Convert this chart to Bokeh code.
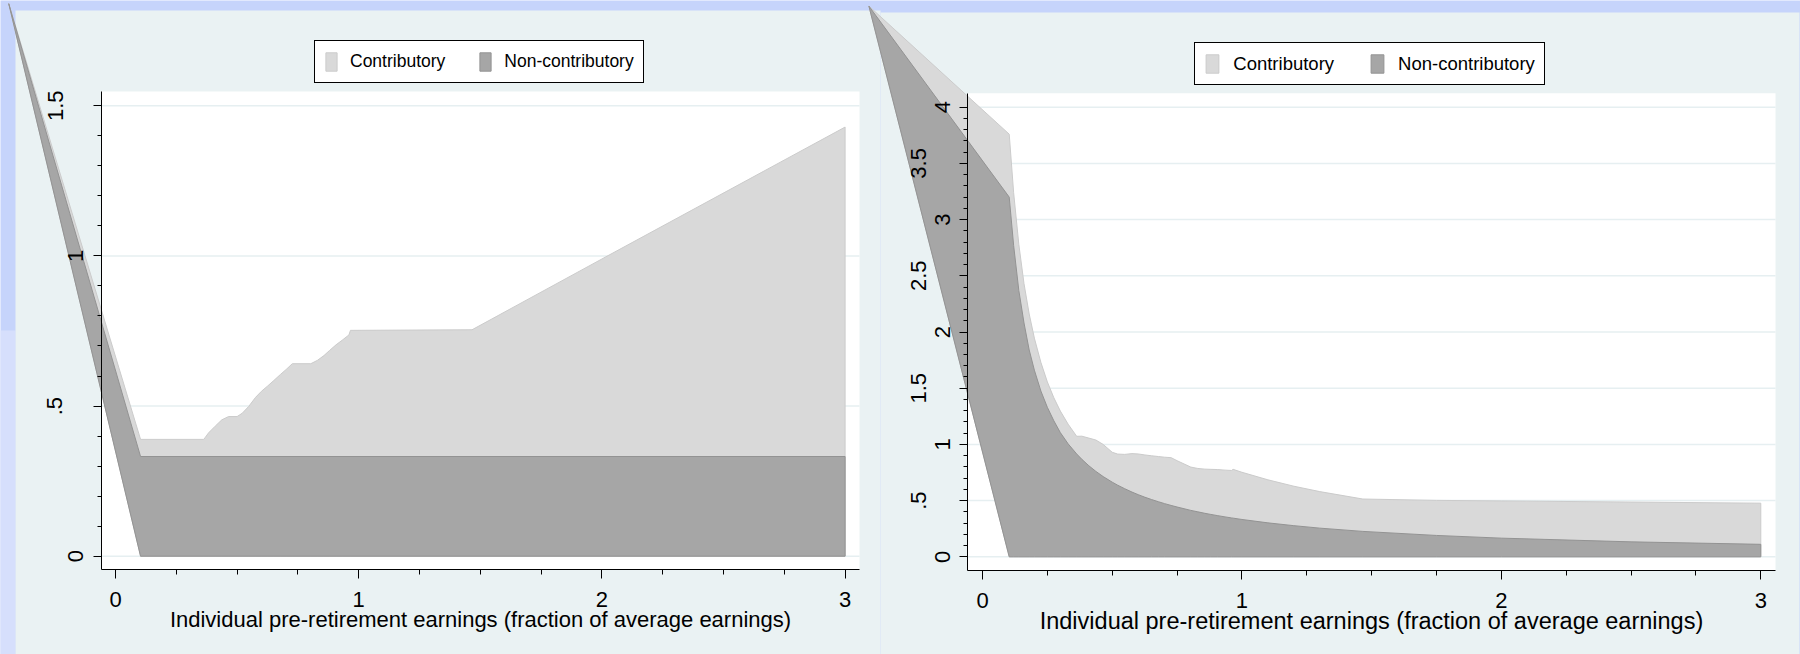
from bokeh.plotting import figure
from bokeh.models import Range1d, LinearAxis, FixedTicker, Legend, LegendItem
from bokeh.embed import file_html
from bokeh.resources import INLINE

# ---------------- data ----------------
series_names = ["Contributory", "Non-contributory"]
x_title = "Individual pre-retirement earnings (fraction of average earnings)"
x_ticks = [0, 1, 2, 3]
x_tick_labels = ["0", "1", "2", "3"]
x_minor_ticks = [0.25, 0.5, 0.75, 1.25, 1.5, 1.75, 2.25, 2.5, 2.75]

lvl_y_ticks = [0, 0.5, 1, 1.5]
lvl_y_labels = ["0", ".5", "1", "1.5"]
rr_y_ticks = [0, 0.5, 1, 1.5, 2, 2.5, 3, 3.5, 4]
rr_y_labels = ["0", ".5", "1", "1.5", "2", "2.5", "3", "3.5", "4"]

# Left panel: pension level (first point is the stray off-plot vertex seen in the picture)
lvl_x = [-0.439, 0.103, 0.363, 0.383, 0.410, 0.437, 0.465, 0.500, 0.521, 0.548,
         0.576, 0.600, 0.626, 0.651, 0.678, 0.702, 0.727, 0.803, 0.830, 0.857,
         0.880, 0.907, 0.935, 0.960, 0.966, 1.466, 2.021, 3.000]
lvl_contrib = [1.840, 0.389, 0.389, 0.411, 0.433, 0.454, 0.465, 0.465, 0.476, 0.499,
               0.529, 0.549, 0.567, 0.585, 0.605, 0.622, 0.641, 0.641, 0.652, 0.668,
               0.685, 0.704, 0.721, 0.737, 0.752, 0.754, 0.999, 1.429]
lvl_nc_x = [-0.439, 0.103, 3.000]
lvl_noncontrib = [1.840, 0.332, 0.332]

# Right panel: replacement rate
rr_x = [-0.438, 0.103, 0.12, 0.14, 0.16, 0.18, 0.20, 0.225, 0.25, 0.275,
        0.30, 0.33, 0.363, 0.383, 0.41, 0.437, 0.465, 0.50, 0.521, 0.548,
        0.576, 0.60, 0.626, 0.651, 0.678, 0.702, 0.727, 0.75, 0.803, 0.83,
        0.857, 0.88, 0.907, 0.935, 0.96, 0.966, 1.0, 1.1, 1.2, 1.3,
        1.466, 1.75, 2.0, 2.5, 3.0]
rr_contrib = [4.90, 3.76, 3.24, 2.78, 2.43, 2.16, 1.945, 1.73, 1.556, 1.415,
              1.297, 1.18, 1.072, 1.073, 1.056, 1.039, 1.000, 0.930, 0.914, 0.911,
              0.918, 0.915, 0.906, 0.899, 0.892, 0.886, 0.882, 0.855, 0.798, 0.786,
              0.780, 0.778, 0.776, 0.771, 0.768, 0.778, 0.752, 0.685, 0.628, 0.580,
              0.514, 0.502, 0.497, 0.487, 0.477]
rr_noncontrib = [4.90, 3.20, 2.77, 2.37, 2.08, 1.84, 1.66, 1.475, 1.33, 1.21,
                 1.105, 1.005, 0.915, 0.867, 0.81, 0.76, 0.714, 0.664, 0.637, 0.606,
                 0.576, 0.553, 0.53, 0.51, 0.49, 0.473, 0.457, 0.443, 0.413, 0.40,
                 0.387, 0.377, 0.366, 0.355, 0.346, 0.344, 0.332, 0.302, 0.277, 0.255,
                 0.226, 0.19, 0.166, 0.133, 0.111]

# ---------------- styles / layout ----------------
BLUE = "#c6d4fb"
BLUE_LIGHT = "#d6dffc"
PANEL = "#eaf2f3"
GRID = "#e6eff1"
LIGHT_FILL, LIGHT_LINE = "#d9d9d9", "#cbcbcb"
DARK_FILL, DARK_LINE = "#a6a6a6", "#939393"
FONT = "Liberation Sans"

M = 0
W, H = 1800, 654

panels = [
    dict(name="lvl", x=lvl_x, top=lvl_contrib, ncx=lvl_nc_x, nc=lvl_noncontrib,
         yt=lvl_y_ticks, yl=lvl_y_labels,
         x0=115.0, sx=243.2, y0=555.7, sy=300.3,
         box=(101.0, 859.0, 91.0, 569.3), bg=(15, 880, 10, 654),
         leg=(314.0, 83.3), gw=14, lso=12, lsp=33, lfs="17.5px",
         tfs="22px", int_so=10, half_so=31),
    dict(name="rr", x=rr_x, top=rr_contrib, ncx=rr_x, nc=rr_noncontrib,
         yt=rr_y_ticks, yl=rr_y_labels,
         x0=982.0, sx=259.43, y0=556.3, sy=112.4,
         box=(967.3, 1775.0, 92.7, 570.0), bg=(880, 1799, 12, 654),
         leg=(1194.3, 85.0), gw=16, lso=13, lsp=35, lfs="18.5px",
         tfs="23.5px", int_so=10, half_so=34),
]

p = figure(width=W, height=H, x_range=Range1d(M, M + W), y_range=Range1d(M + H, M),
           x_axis_location=None, y_axis_location=None, toolbar_location=None,
           output_backend="svg", min_border=0, outline_line_color=None,
           background_fill_color=BLUE, border_fill_color=BLUE)
p.grid.visible = False

# lighter lower part of the left outer strip
p.quad(left=0, right=15, top=330, bottom=654, fill_color=BLUE_LIGHT, line_color=None)

for pn in panels:
    bl, br, bt, bb = pn["bg"]
    p.quad(left=bl, right=br, top=bt, bottom=bb, fill_color=PANEL, line_color=None)

for pn in panels:
    xl, xr, yt_, yb_ = pn["box"]
    p.quad(left=xl, right=xr, top=yt_, bottom=yb_, fill_color="white", line_color=None)


def area(x, top):
    base = [top[0]] + [0.0] * (len(x) - 1)
    return list(x) + list(x)[::-1], list(top) + base[::-1]


for pn in panels:
    xn, yn = pn["name"] + "_x", pn["name"] + "_y"
    x0, sx, y0, sy = pn["x0"], pn["sx"], pn["y0"], pn["sy"]
    p.extra_x_ranges[xn] = Range1d((M - x0) / sx, (M + W - x0) / sx)
    p.extra_y_ranges[yn] = Range1d((y0 - (M + H)) / sy, (y0 - M) / sy)
    bxl, bxr, byt, byb = pn["box"]
    dxl, dxr = (bxl - x0) / sx, (bxr - x0) / sx
    dyb, dyt = (y0 - byb) / sy, (y0 - byt) / sy

    # grid lines
    n = len(pn["yt"])
    p.segment(x0=[dxl] * n, x1=[dxr] * n, y0=pn["yt"], y1=pn["yt"], line_color=GRID,
              line_width=1.5, x_range_name=xn, y_range_name=yn)

    # areas
    xs, ys = area(pn["x"], pn["top"])
    r_light = p.patch(xs, ys, fill_color=LIGHT_FILL, line_color=LIGHT_LINE, line_width=1,
                      x_range_name=xn, y_range_name=yn)
    xs, ys = area(pn["ncx"], pn["nc"])
    r_dark = p.patch(xs, ys, fill_color=DARK_FILL, line_color=DARK_LINE, line_width=1,
                     x_range_name=xn, y_range_name=yn)

    # x axis
    xa = LinearAxis(x_range_name=xn, y_range_name=yn, fixed_location=dyb, bounds=(dxl, dxr),
                    ticker=FixedTicker(ticks=x_ticks, minor_ticks=x_minor_ticks),
                    major_label_overrides={t: l for t, l in zip(x_ticks, x_tick_labels)},
                    axis_label=x_title)
    xa.major_tick_out, xa.minor_tick_out = 9, 5
    xa.major_label_standoff = 13
    xa.axis_label_standoff = -3
    xa.axis_label_text_font = FONT
    xa.axis_label_text_font_size = pn["tfs"]
    xa.axis_label_text_font_style = "normal"
    xa.axis_label_text_color = "black"

    ymax = max(pn["yt"])
    minors = [round(0.1 * i, 1) for i in range(int(round(ymax * 10)) + 1)]
    minors = [m for m in minors if m not in pn["yt"]]
    ints = [(t, l) for t, l in zip(pn["yt"], pn["yl"]) if float(t).is_integer()]
    halves = [(t, l) for t, l in zip(pn["yt"], pn["yl"]) if not float(t).is_integer()]
    ya = LinearAxis(x_range_name=xn, y_range_name=yn, fixed_location=dxl, bounds=(dyb, dyt),
                    ticker=FixedTicker(ticks=[t for t, _ in ints], minor_ticks=minors),
                    major_label_overrides={t: l for t, l in ints},
                    major_label_orientation="parallel")
    ya.major_tick_out, ya.minor_tick_out = 8, 4
    ya.major_label_standoff = pn["int_so"]
    yb = LinearAxis(x_range_name=xn, y_range_name=yn, fixed_location=dxl, bounds=(dyb, dyt),
                    ticker=FixedTicker(ticks=[t for t, _ in halves], minor_ticks=[]),
                    major_label_overrides={t: l for t, l in halves},
                    major_label_orientation="parallel")
    yb.major_tick_out = 8
    yb.axis_line_color = None
    yb.major_label_standoff = pn["half_so"]

    for ax in (xa, ya, yb):
        ax.major_tick_in = 0
        ax.minor_tick_in = 0
        ax.major_tick_line_color = "black"
        ax.minor_tick_line_color = "black"
        ax.major_label_text_font = FONT
        ax.major_label_text_font_size = "22px"
        ax.major_label_text_color = "black"
    xa.axis_line_color = "black"
    ya.axis_line_color = "black"

    p.add_layout(xa, "below")
    p.add_layout(ya, "left")
    p.add_layout(yb, "left")

    lx, lb = pn["leg"]
    leg = Legend(items=[LegendItem(label=series_names[0], renderers=[r_light]),
                        LegendItem(label=series_names[1], renderers=[r_dark])],
                 orientation="horizontal", location=(lx - M, (M + H) - lb),
                 padding=9, spacing=pn["lsp"], label_standoff=pn["lso"], margin=0,
                 glyph_width=pn["gw"], glyph_height=23, label_height=23,
                 label_text_font=FONT, label_text_font_size=pn["lfs"],
                 label_text_color="black",
                 border_line_color="black", border_line_width=1, border_line_alpha=1,
                 background_fill_color="white", background_fill_alpha=1)
    p.add_layout(leg, "center")

open("out.html", "w").write(file_html(p, INLINE))
